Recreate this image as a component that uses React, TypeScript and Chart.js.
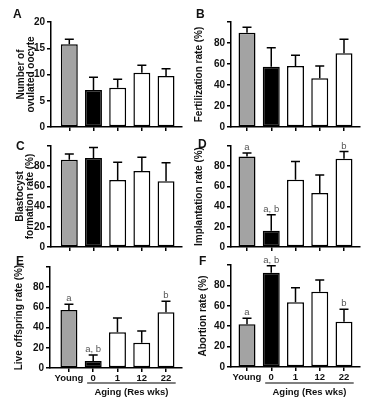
import React, { useEffect, useRef } from 'react';
import { Chart, registerables } from 'chart.js';
Chart.register(...registerables);

const categories = ['Young', '0', '1', '12', '22'];
const barColors = ['#a3a3a3', '#000000', '#ffffff', '#ffffff', '#ffffff'];

// A: ovulated oocytes (mean, upper end of error bar)
const ovulatedMean = [15.75, 7.05, 7.5, 10.35, 9.7];
const ovulatedErr = [16.7, 9.5, 9.1, 11.75, 11.1];
// B: fertilization rate
const fertMean = [89.8, 57.4, 58, 46.5, 70.2];
const fertErr = [95, 75.5, 68.3, 58, 83.5];
// C: blastocyst formation rate
const blastMean = [86.5, 88.1, 66.3, 75.3, 65.1];
const blastErr = [92, 98.4, 84, 88.8, 83.3];
// D: implantation rate
const implMean = [89.7, 16, 66.7, 53.5, 87.5];
const implErr = [93, 32, 84.6, 71.4, 94.5];
const implLetters = ['a', 'a, b', '', '', 'b'];
// E: live offspring rate
const liveMean = [57.4, 7, 35.3, 25, 55.1];
const liveErr = [63, 12.8, 49.5, 36.6, 66];
const liveLetters = ['a', 'a, b', '', '', 'b'];
// F: abortion rate
const abortMean = [41.8, 92.5, 63.4, 73.8, 44.4];
const abortErr = [47.8, 99.3, 77.8, 85.3, 56.6];
const abortLetters = ['a', 'a, b', '', '', 'b'];

const groupLabel = 'Aging (Res wks)';
const FONT = "'Liberation Sans', Arial, sans-serif";

type PanelProps = {
  letter: string;
  letterPos: [number, number];
  canvas: [number, number, number, number]; // left, top, width, height
  area: [number, number, number, number]; // left, top, right, bottom (page)
  xRange: [number, number];
  title: string | string[];
  titlePad: number;
  means: number[];
  errs: number[];
  letters?: string[];
  yMax: number;
  yStep: number;
  hideTop: boolean;
  showX: boolean;
};

function Panel(p: PanelProps) {
  const ref = useRef<HTMLCanvasElement>(null);
  useEffect(() => {
    const [cl, ct, cw, ch] = p.canvas;
    const [al, at, ar, ab] = p.area;
    const overlay = {
      id: 'overlay',
      afterDatasetsDraw(chart: any) {
        const { ctx } = chart;
        const y = chart.scales.y;
        const x = chart.scales.x;
        const meta = chart.getDatasetMeta(0);
        ctx.save();
        ctx.strokeStyle = '#000';
        ctx.lineWidth = 1.5;
        meta.data.forEach((bar: any, i: number) => {
          const top = y.getPixelForValue(p.errs[i]);
          ctx.beginPath();
          ctx.moveTo(bar.x, bar.y);
          ctx.lineTo(bar.x, top);
          ctx.moveTo(bar.x - 4.5, top);
          ctx.lineTo(bar.x + 4.5, top);
          ctx.stroke();
          const lt = p.letters ? p.letters[i] : '';
          if (lt) {
            ctx.fillStyle = '#555';
            ctx.font = `9.5px ${FONT}`;
            ctx.textAlign = 'center';
            ctx.textBaseline = 'alphabetic';
            ctx.fillText(lt, bar.x, top - 3);
          }
        });
        if (p.showX) {
          const x0 = x.getPixelForValue(0.75);
          const x1 = x.getPixelForValue(4.4);
          const ly = 383 - ct;
          ctx.lineWidth = 1.2;
          ctx.beginPath();
          ctx.moveTo(x0, ly);
          ctx.lineTo(x1, ly);
          ctx.stroke();
          ctx.fillStyle = '#111';
          ctx.font = `bold 9.5px ${FONT}`;
          ctx.textAlign = 'center';
          ctx.textBaseline = 'middle';
          ctx.fillText(groupLabel, (x0 + x1) / 2, 392 - ct);
        }
        ctx.restore();
      },
    };
    const chart = new Chart(ref.current as HTMLCanvasElement, {
      type: 'bar',
      data: {
        datasets: [
          {
            data: p.means.map((v, i) => ({ x: i, y: v })),
            backgroundColor: barColors,
            borderColor: '#000',
            borderWidth: 1.5,
            borderSkipped: false,
            barPercentage: 0.7,
            categoryPercentage: 1,
          } as any,
        ],
      },
      options: {
        animation: false,
        responsive: false,
        maintainAspectRatio: false,
        layout: { padding: { left: 0, top: at - ct, right: cl + cw - ar, bottom: 0 } },
        plugins: { legend: { display: false }, tooltip: { enabled: false } },
        scales: {
          x: {
            type: 'linear',
            offset: false,
            min: p.xRange[0],
            max: p.xRange[1],
            afterBuildTicks: (s: any) => {
              s.ticks = categories.map((_, i) => ({ value: i }));
            },
            afterFit: (s: any) => {
              s.height = ct + ch - ab;
            },
            ticks: {
              autoSkip: false,
              maxRotation: 0,
              padding: 1,
              color: '#111',
              font: { family: FONT, size: 9.5, weight: 'bold' },
              callback: (_v: any, i: number) => (p.showX ? categories[i] : ''),
            },
            grid: { offset: false, drawOnChartArea: false, drawTicks: true, tickLength: 4, color: '#000', lineWidth: 1.5 },
            border: { display: true, color: '#000', width: 1.5 },
          },
          y: {
            min: 0,
            max: p.yMax,
            afterFit: (s: any) => {
              s.width = al - cl;
            },
            ticks: {
              stepSize: p.yStep,
              padding: 2,
              color: '#111',
              font: { family: FONT, size: 10, weight: 'bold' },
              callback: (v: any) => (p.hideTop && v === p.yMax ? '' : String(v)),
            },
            title: {
              display: true,
              text: p.title,
              color: '#111',
              font: { family: FONT, size: 10, weight: 'bold', lineHeight: 1.0 },
              padding: { top: p.titlePad, bottom: 0 },
            },
            grid: { drawOnChartArea: false, drawTicks: true, tickLength: 4, color: '#000', lineWidth: 1.5 },
            border: { display: true, color: '#000', width: 1.5 },
          },
        },
      } as any,
      plugins: [overlay],
    });
    return () => chart.destroy();
  }, []);
  const [cl, ct, cw, ch] = p.canvas;
  return (
    <>
      <canvas
        ref={ref}
        width={cw}
        height={ch}
        style={{ position: 'absolute', left: cl, top: ct, width: cw, height: ch }}
      />
      <div
        style={{
          position: 'absolute',
          left: p.letterPos[0],
          top: p.letterPos[1] - 1.6,
          font: `bold 12px ${FONT}`,
          lineHeight: '12px',
          color: '#111',
        }}
      >
        {p.letter}
      </div>
    </>
  );
}

export default function App() {
  const L: [number, number] = [-0.757, 4.66];
  const R: [number, number] = [-0.66, 4.66];
  return (
    <div style={{ position: 'absolute', left: 0, top: 0, width: 366, height: 400, background: '#fff' }}>
      <Panel letter="A" letterPos={[13, 10]} canvas={[0, 0, 183, 135]} area={[51, 22, 182, 127]} xRange={L}
        title={['Number of', 'ovulated oocyte']} titlePad={16} means={ovulatedMean} errs={ovulatedErr}
        yMax={20} yStep={5} hideTop={false} showX={false} />
      <Panel letter="B" letterPos={[196, 10]} canvas={[183, 0, 183, 135]} area={[231, 22, 360, 127]} xRange={R}
        title="Fertilization rate (%)" titlePad={11.5} means={fertMean} errs={fertErr}
        yMax={100} yStep={20} hideTop={true} showX={false} />
      <Panel letter="C" letterPos={[16, 142]} canvas={[0, 135, 183, 120]} area={[51, 146, 182, 250]} xRange={L}
        title={['Blastocyst', 'formation rate (%)']} titlePad={15} means={blastMean} errs={blastErr}
        yMax={100} yStep={20} hideTop={true} showX={false} />
      <Panel letter="D" letterPos={[198, 140]} canvas={[183, 135, 183, 120]} area={[231, 146, 360, 250]} xRange={R}
        title="Implantation rate (%)" titlePad={11.5} means={implMean} errs={implErr} letters={implLetters}
        yMax={100} yStep={20} hideTop={true} showX={false} />
      <Panel letter="E" letterPos={[16, 257]} canvas={[0, 255, 183, 145]} area={[50, 267, 182, 368]} xRange={[-0.78, 4.66]}
        title="Live offspring rate (%)" titlePad={14} means={liveMean} errs={liveErr} letters={liveLetters}
        yMax={100} yStep={20} hideTop={true} showX={true} />
      <Panel letter="F" letterPos={[199, 257]} canvas={[183, 255, 183, 145]} area={[231, 265, 360, 367]} xRange={R}
        title="Abortion rate (%)" titlePad={15} means={abortMean} errs={abortErr} letters={abortLetters}
        yMax={100} yStep={20} hideTop={true} showX={true} />
    </div>
  );
}
